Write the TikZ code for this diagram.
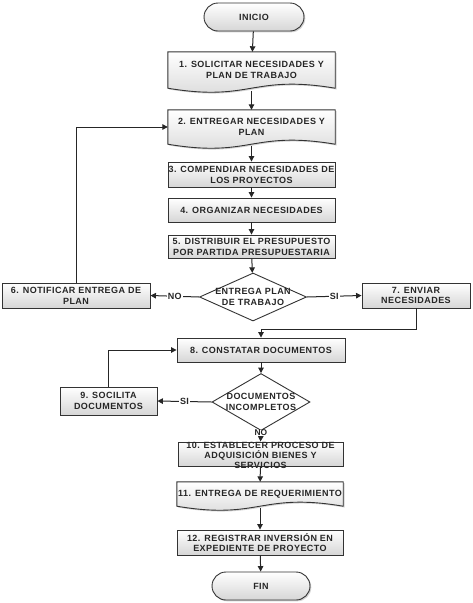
\documentclass[tikz,border=0pt]{standalone}
\usepackage{fontspec}
\setmainfont{Liberation Sans}
\usetikzlibrary{shapes.geometric,shapes.misc,arrows.meta,calc,backgrounds,shadows}
\begin{document}
\begin{tikzpicture}[x=1pt,y=-1pt,
  every node/.style={font=\bfseries\fontsize{9}{10.8}\selectfont\addfontfeature{LetterSpace=5}, align=center, text=black!85},
  boxsty/.style={draw=black!80, line width=0.9pt, top color=white, bottom color=black!16,
    drop shadow={shadow xshift=1.3pt,shadow yshift=-1.3pt,opacity=0.35}},
  proc/.style={rectangle, boxsty, inner sep=0pt},
  docn/.style={rectangle, inner sep=0pt},
  term/.style={rounded rectangle, boxsty, inner sep=0pt, minimum width=100, minimum height=28},
  decision/.style={diamond, draw=black!80, line width=0.9pt, fill=white, inner sep=0pt},
  arr/.style={draw=black!85, line width=1pt, -{Triangle[length=5.5pt,width=5.5pt]}},
  tag/.style={fill=white, inner sep=1.2pt}
]
\begin{scope}[on background layer]
\fill[white] (0,0) rectangle (472,603);
\end{scope}
\useasboundingbox (0,0) rectangle (472,603);

\newcommand\docshape[1]{\path[boxsty] (#1.north west) -- (#1.north east) -- (#1.south east)
  .. controls ($(#1.south)+(0,-14)$) and ($(#1.south)+(0,14)$) .. (#1.south west) -- cycle;}

% nodes
\node[term] (ini) at (254,17) {INICIO};
\node[docn, minimum width=167, minimum height=36] (b1) at (251.5,70) {1. SOLICITAR NECESIDADES Y\\PLAN DE TRABAJO};
\node[docn, minimum width=167, minimum height=34] (b2) at (251.5,127) {2. ENTREGAR NECESIDADES Y\\PLAN};
\node[proc, minimum width=167, minimum height=25] (b3) at (251.5,174.5) {3. COMPENDIAR NECESIDADES DE\\LOS PROYECTOS};
\node[proc, minimum width=167, minimum height=24] (b4) at (251.5,210) {4. ORGANIZAR NECESIDADES};
\node[proc, minimum width=167, minimum height=23] (b5) at (251.5,246.5) {5. DISTRIBUIR EL PRESUPUESTO\\POR PARTIDA PRESUPUESTARIA};
\node[decision, minimum width=107, minimum height=48,
  label={center:ENTREGA PLAN\\DE TRABAJO}] (d1) at (253,297) {};
\node[proc, minimum width=148, minimum height=25] (b6) at (76,295.5) {6. NOTIFICAR ENTREGA DE\\PLAN};
\node[proc, minimum width=108, minimum height=25] (b7) at (416,295.5) {7. ENVIAR\\NECESIDADES};
\node[proc, minimum width=168, minimum height=24] (b8) at (261,350) {8. CONSTATAR DOCUMENTOS};
\node[decision, minimum width=98, minimum height=57,
  label={center:DOCUMENTOS\\INCOMPLETOS}] (d2) at (261,402) {};
\node[proc, minimum width=97, minimum height=28] (b9) at (108.5,401) {9. SOCILITA\\DOCUMENTOS};
\node[proc, minimum width=165, minimum height=24,
  label={[yshift=-1.5pt, font=\bfseries\fontsize{9}{10.3}\selectfont\addfontfeature{LetterSpace=5}]center:10. ESTABLECER PROCESO DE\\ADQUISICIÓN BIENES Y\\SERVICIOS}] (b10) at (260.5,454) {};
\node[docn, minimum width=166, minimum height=24] (b11) at (260,494) {11. ENTREGA DE REQUERIMIENTO};
\node[proc, minimum width=166, minimum height=25] (b12) at (260,542.5) {12. REGISTRAR INVERSIÓN EN\\EXPEDIENTE DE PROYECTO};
\node[term, minimum width=98] (fin) at (261,586) {FIN};

\begin{scope}[on background layer]
\docshape{b1}
\docshape{b2}
\docshape{b11}
\end{scope}

% connectors
\draw[arr] (ini) -- (b1);
\draw[arr] (b1.south) ++(0,3) -- (b2);
\draw[arr] (b2.south) ++(0,2) -- (b3);
\draw[arr] (b3) -- (b4);
\draw[arr] (b4) -- (b5);
\draw[arr] (b5) -- (d1);
\draw[arr] (d1.west) -- node[tag]{NO} (b6.east);
\draw[arr] (d1.east) -- node[tag]{SI} (b7.west);
\draw[arr] (b6.north) |- (b2.west);
\draw[arr] (b7.south) -- ++(0,21) -| (b8.north);
\draw[arr] (b8) -- (d2);
\draw[arr] (d2.west) -- node[tag]{SI} (b9.east);
\draw[arr] (b9.north) |- (b8.west);
\draw[arr] (d2.south) -- node[tag, pos=0.2, inner sep=0.3pt, font=\bfseries\fontsize{8.4}{9}\selectfont]{NO} (b10.north);
\draw[arr] (b10) -- (b11);
\draw[arr] (b11.south) ++(0,2) -- (b12);
\draw[arr] (b12) -- (fin);
\end{tikzpicture}
\end{document}
